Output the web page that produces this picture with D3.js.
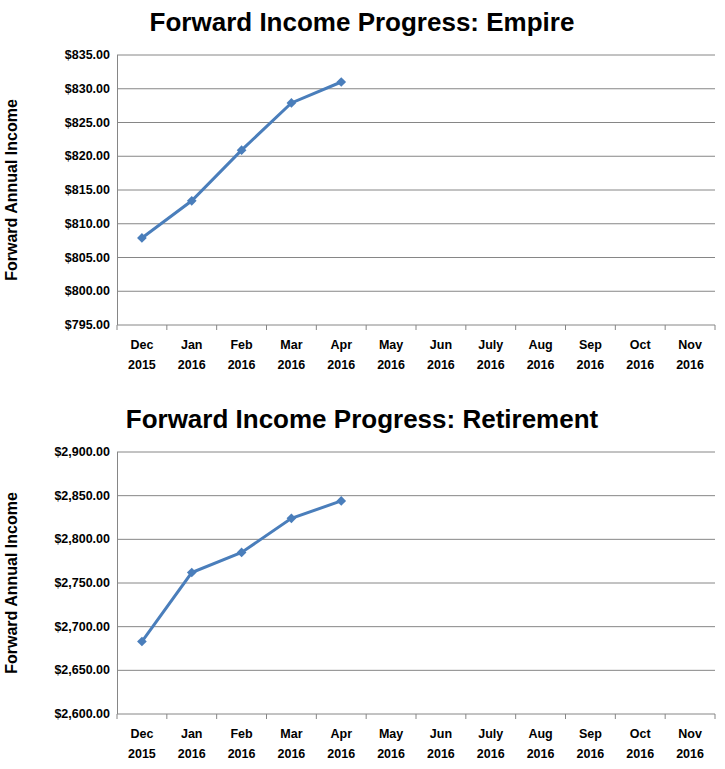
<!DOCTYPE html>
<html><head><meta charset="utf-8">
<script src="https://cdn.jsdelivr.net/npm/d3@7"></script>
<style>body{margin:0;background:#fff}text{font-family:"Liberation Sans",Arial,sans-serif}</style>
</head><body>
<script>
var months = ["Dec","Jan","Feb","Mar","Apr","May","Jun","July","Aug","Sep","Oct","Nov"];
var years = ["2015","2016","2016","2016","2016","2016","2016","2016","2016","2016","2016","2016"];
var empireValues = [807.9, 813.4, 820.9, 827.9, 831.0];
var retireValues = [2683, 2762, 2785, 2824, 2844];
var empireTicks = [795,800,805,810,815,820,825,830,835];
var retireTicks = [2600,2650,2700,2750,2800,2850,2900];

var svg = d3.select("body").append("svg").attr("width", 725).attr("height", 769);
var fmt = d3.format("$,.2f");

function drawChart(title, values, ticks, top, bottom) {
    var x = d3.scaleBand().domain(d3.range(12)).range([117, 715]);
    var y = d3.scaleLinear().domain([ticks[0], ticks[ticks.length-1]]).range([bottom, top]);
    var g = svg.append("g");
    g.append("text").attr("x", 362).attr("y", top - 24).attr("text-anchor", "middle")
        .style("font-size", "26px").style("font-weight", "bold").text(title);
    g.selectAll(".grid").data(ticks).enter().append("line")
        .attr("x1", 117).attr("x2", 715).attr("y1", d => y(d)).attr("y2", d => y(d))
        .attr("stroke", "#868686").attr("stroke-width", 1);
    g.append("line").attr("x1", 117.5).attr("x2", 117.5).attr("y1", top).attr("y2", bottom).attr("stroke", "#868686");
    g.selectAll(".yl").data(ticks).enter().append("text")
        .attr("x", 110).attr("y", d => y(d) + 4).attr("text-anchor", "end")
        .style("font-size", "12.5px").style("font-weight", "bold").text(fmt);
    g.selectAll(".xt").data(d3.range(13)).enter().append("line")
        .attr("x1", d => 117 + d * x.step()).attr("x2", d => 117 + d * x.step())
        .attr("y1", bottom).attr("y2", bottom + 5).attr("stroke", "#868686");
    var xl = g.selectAll(".xl").data(d3.range(12)).enter().append("text")
        .attr("text-anchor", "middle").style("font-size", "12.5px").style("font-weight", "bold");
    xl.append("tspan").attr("x", d => x(d) + x.bandwidth()/2).attr("y", bottom + 24).text(d => months[d]);
    xl.append("tspan").attr("x", d => x(d) + x.bandwidth()/2).attr("y", bottom + 44).text(d => years[d]);
    g.append("text").attr("transform", "translate(17," + ((top + bottom)/2) + ") rotate(-90)")
        .attr("text-anchor", "middle").style("font-size", "16px").style("font-weight", "bold")
        .text("Forward  Annual Income");
    var line = d3.line().x((d, i) => x(i) + x.bandwidth()/2).y(d => y(d));
    g.append("path").datum(values).attr("d", line).attr("fill", "none")
        .attr("stroke", "#4a7ebb").attr("stroke-width", 3);
    g.selectAll(".pt").data(values).enter().append("path")
        .attr("d", d3.symbol(d3.symbolDiamond2, 60))
        .attr("transform", (d, i) => "translate(" + (x(i) + x.bandwidth()/2) + "," + y(d) + ")")
        .attr("fill", "#4a7ebb");
}

drawChart("Forward Income Progress: Empire", empireValues, empireTicks, 55, 325);
drawChart("Forward Income Progress: Retirement", retireValues, retireTicks, 452, 714);
</script>
</body></html>
